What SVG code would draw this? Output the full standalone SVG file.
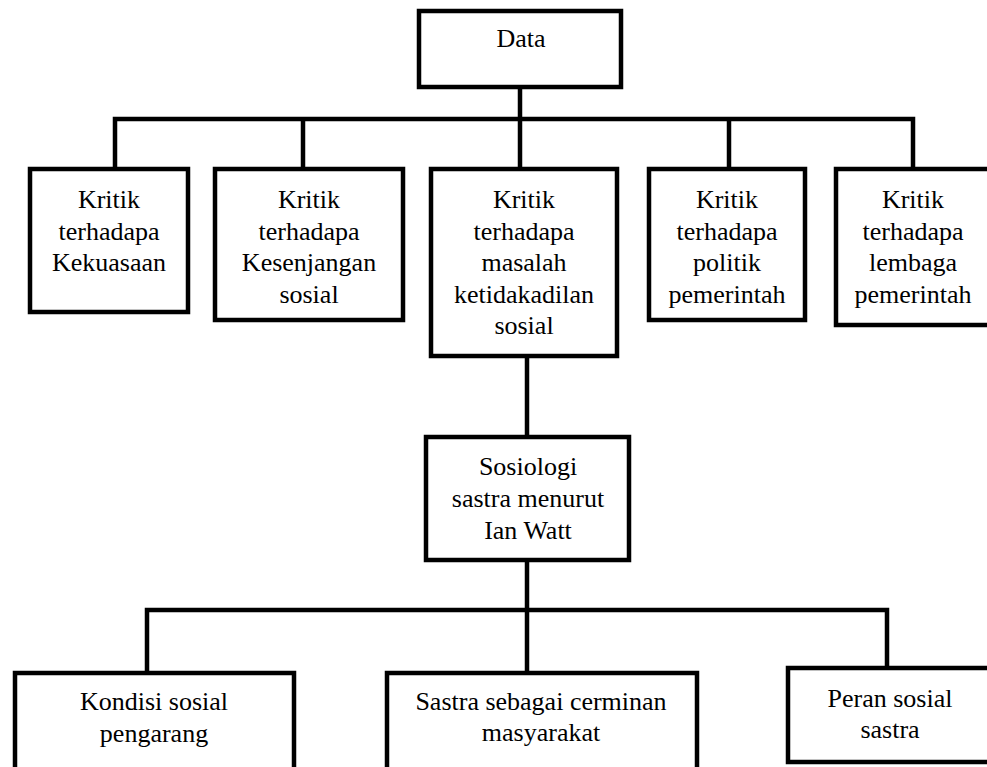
<svg xmlns="http://www.w3.org/2000/svg" width="987" height="767" viewBox="0 0 987 767">
<style>
.box{fill:#fff;stroke:#000;stroke-width:4.5}
.conn{fill:none;stroke:#000;stroke-width:4.5;stroke-linejoin:miter}
.t{font-family:'Liberation Serif','Times New Roman','DejaVu Serif',serif;font-size:26px;fill:#000;text-anchor:middle}
</style>
<rect width="987" height="767" fill="#fff"/>
<g id="connectors">
<path class="conn" d="M520,87 V119"/>
<path class="conn" d="M115,169 V119 H913 V169"/>
<path class="conn" d="M303,119 V169"/>
<path class="conn" d="M520,119 V169"/>
<path class="conn" d="M729,119 V169"/>
<path class="conn" d="M527,357 V437"/>
<path class="conn" d="M527,561 V673"/>
<path class="conn" d="M147,672 V610 H887 V668"/>
</g>
<g class="t" font-family="Liberation Serif, serif">
<g id="data">
<rect class="box" x="419" y="11" width="202" height="76"/>
<text x="521" y="47">Data</text>
</g>
<g id="kekuasaan">
<rect class="box" x="30" y="169" width="158" height="143"/>
<text x="109" y="208">Kritik</text>
<text x="109" y="239.5">terhadapa</text>
<text x="109" y="271">Kekuasaan</text>
</g>
<g id="kesenjangan">
<rect class="box" x="215" y="169" width="188" height="151"/>
<text x="309" y="208">Kritik</text>
<text x="309" y="239.5">terhadapa</text>
<text x="309" y="271">Kesenjangan</text>
<text x="309" y="302.5">sosial</text>
</g>
<g id="ketidakadilan">
<rect class="box" x="431" y="169" width="186" height="187"/>
<text x="524" y="208">Kritik</text>
<text x="524" y="239.5">terhadapa</text>
<text x="524" y="271">masalah</text>
<text x="524" y="302.5">ketidakadilan</text>
<text x="524" y="334">sosial</text>
</g>
<g id="politik">
<rect class="box" x="649" y="169" width="156" height="151"/>
<text x="727" y="208">Kritik</text>
<text x="727" y="239.5">terhadapa</text>
<text x="727" y="271">politik</text>
<text x="727" y="302.5">pemerintah</text>
</g>
<g id="lembaga">
<rect class="box" x="836" y="169" width="156" height="156"/>
<text x="913" y="208">Kritik</text>
<text x="913" y="239.5">terhadapa</text>
<text x="913" y="271">lembaga</text>
<text x="913" y="302.5">pemerintah</text>
</g>
<g id="sosiologi">
<rect class="box" x="426" y="437" width="203" height="123"/>
<text x="528" y="475">Sosiologi</text>
<text x="528" y="507">sastra menurut</text>
<text x="528" y="539">Ian Watt</text>
</g>
<g id="kondisi">
<rect class="box" x="15" y="673" width="279" height="110"/>
<text x="154" y="710">Kondisi sosial</text>
<text x="154" y="742">pengarang</text>
</g>
<g id="cerminan">
<rect class="box" x="387" y="673" width="310" height="110"/>
<text x="541" y="710">Sastra sebagai cerminan</text>
<text x="541" y="741">masyarakat</text>
</g>
<g id="peran">
<rect class="box" x="788" y="668" width="205" height="94"/>
<text x="890" y="707">Peran sosial</text>
<text x="890" y="738">sastra</text>
</g>
</g>
</svg>
